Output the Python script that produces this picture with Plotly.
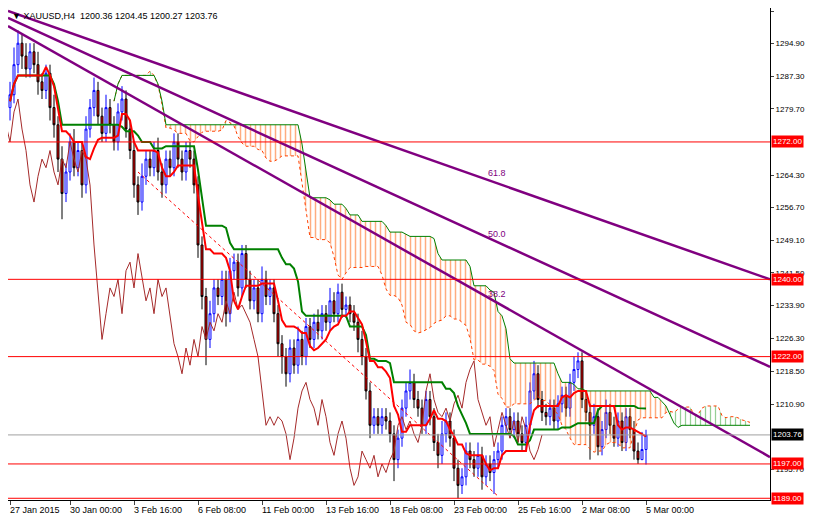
import pandas as pd
import plotly.graph_objects as go

closes = [1283, 1290, 1295, 1292, 1289, 1293, 1290, 1286, 1284, 1288, 1280, 1276,
          1268, 1260, 1265, 1272, 1266, 1270, 1262, 1275, 1280, 1284, 1278, 1274,
          1280, 1276, 1272, 1279, 1282, 1275, 1270, 1262, 1258, 1264, 1268, 1266,
          1270, 1265, 1262, 1268, 1266, 1272, 1268, 1265, 1270, 1268, 1262, 1248,
          1236, 1226, 1232, 1238, 1236, 1240, 1232, 1242, 1244, 1238, 1246, 1240,
          1235, 1238, 1232, 1240, 1236, 1238, 1232, 1225, 1222, 1218, 1224, 1220,
          1226, 1222, 1229, 1226, 1230, 1228, 1232, 1230, 1235, 1232, 1237, 1233,
          1234, 1232, 1230, 1226, 1222, 1214, 1206, 1208, 1206, 1208, 1207, 1204,
          1198, 1203, 1210, 1214, 1216, 1212, 1210, 1206, 1212, 1208, 1202, 1199,
          1204, 1207, 1203, 1196, 1192, 1194, 1200, 1198, 1196, 1199, 1194, 1197,
          1195, 1198, 1200, 1206, 1208, 1205, 1207, 1204, 1202, 1206, 1214, 1218,
          1212, 1209, 1208, 1210, 1207, 1211, 1213, 1210, 1216, 1219, 1221, 1212,
          1209, 1206, 1208, 1201, 1205, 1209, 1206, 1203, 1207, 1202, 1208, 1205,
          1200, 1198, 1200.36, 1203.76]
first_open = 1280
wick_up = [3, 4, 3, 2, 3, 2, 2, 3, 2, 2, 2, 3, 2, 3, 2, 2, 3, 2, 2, 3, 2, 3, 2, 2,
           3, 2, 2, 2, 3, 2, 2, 2, 2, 3, 2, 2, 2, 3, 2, 2, 2, 2, 2, 2, 2, 2, 2, 2,
           2, 2, 3, 2, 2, 2, 2, 3, 2, 2, 2, 2, 2, 2, 2, 3, 2, 2, 2, 2, 2, 2, 2, 2,
           3, 2, 2, 2, 2, 3, 2, 2, 3, 2, 2, 2, 2, 2, 2, 2, 2, 2, 2, 2, 2, 2, 2, 2,
           2, 2, 2, 2, 3, 2, 2, 2, 2, 2, 2, 2, 3, 2, 2, 2, 2, 2, 2, 2, 2, 3, 2, 2,
           2, 2, 2, 2, 2, 2, 2, 2, 2, 2, 2, 3, 2, 2, 2, 2, 2, 2, 2, 2, 2, 3, 2, 2,
           2, 2, 3, 2, 2, 3, 2, 2, 2, 2, 2, 2, 2, 2, 4.1, 1.2]
wick_dn = [3, 2, 2, 3, 2, 2, 2, 3, 2, 2, 3, 3, 3, 6, 2, 2, 2, 2, 3, 2, 2, 2, 2, 2,
           2, 2, 2, 2, 2, 2, 2, 3, 3, 2, 2, 2, 2, 2, 3, 2, 2, 2, 2, 2, 2, 2, 2, 3,
           3, 6, 2, 2, 2, 2, 3, 2, 2, 2, 2, 2, 2, 2, 2, 2, 2, 2, 2, 3, 4, 3, 2, 2,
           2, 2, 2, 2, 2, 2, 2, 2, 2, 2, 2, 2, 2, 2, 2, 3, 2, 2, 3, 2, 2, 2, 2, 2,
           5, 2, 2, 2, 2, 2, 2, 2, 2, 2, 2, 3, 2, 2, 2, 3, 3, 2, 2, 2, 2, 2, 3, 2,
           2, 5, 2, 2, 2, 2, 2, 2, 2, 2, 2, 2, 2, 2, 2, 2, 2, 2, 2, 2, 2, 2, 2, 2,
           2, 8, 2, 2, 2, 2, 2, 2, 2, 2, 2, 2, 2, 1, 0.1, 3.5]

date_ticks = [0, 15, 31, 47, 63, 79, 95, 111, 127, 143, 159]
date_labels = ["27 Jan 2015", "30 Jan 00:00", "3 Feb 16:00", "6 Feb 08:00", "11 Feb 00:00",
               "13 Feb 16:00", "18 Feb 08:00", "23 Feb 00:00", "25 Feb 16:00",
               "2 Mar 08:00", "5 Mar 00:00"]
price_ticks = [1302.5, 1294.9, 1287.3, 1279.7, 1264.3, 1256.7, 1249.1, 1241.5,
               1233.9, 1226.3, 1218.5, 1210.9, 1195.7]
levels = [1272.0, 1240.0, 1222.0, 1197.0, 1189.0]
last_price = 1203.76
# fibo channel: (bar at left, price), (bar at right, price)
fib_lines = [((-0.5, 1302.5), (190, 1240.0)),
             ((-0.5, 1300.9), (190, 1219.6)),
             ((-0.5, 1299.0), (190, 1198.6))]
fib_names = ["61.8", "50.0", "38.2"]
fib_label_pos = [(119, 1264.8), (119, 1250.6), (119, 1236.6)]
dash_line = ((32, 1265.0), (122, 1189.5))

FONT = "Liberation Sans"

n = len(closes)
idx = list(range(n))
opens = [first_open] + closes[:-1]
highs = [max(o, c) + w for o, c, w in zip(opens, closes, wick_up)]
lows = [min(o, c) - w for o, c, w in zip(opens, closes, wick_dn)]

hs = pd.Series(highs)
ls = pd.Series(lows)
tenkan = (hs.rolling(9, min_periods=1).max() + ls.rolling(9, min_periods=1).min()) / 2
kijun = (hs.rolling(26, min_periods=1).max() + ls.rolling(26, min_periods=1).min()) / 2
span_a = ((tenkan + kijun) / 2).tolist()
span_b = ((hs.rolling(52, min_periods=1).max() + ls.rolling(52, min_periods=1).min()) / 2).tolist()
cloud_x = [i + 26 for i in idx]
top = [max(a, b) for a, b in zip(span_a, span_b)]

fig = go.Figure()

# cloud: green where A above B, orange where B above A
clear = dict(color="rgba(0,0,0,0)", width=0)
fig.add_trace(go.Scatter(x=cloud_x, y=span_b, mode="lines", line=clear, hoverinfo="skip", showlegend=False))
fig.add_trace(go.Scatter(x=cloud_x, y=top, mode="lines", line=clear,
                         fill="tonexty", fillcolor="rgba(0,0,0,0)",
                         fillpattern=dict(shape="|", fgcolor="#2ca02c", size=5, solidity=0.25),
                         hoverinfo="skip", showlegend=False))
fig.add_trace(go.Scatter(x=cloud_x, y=span_a, mode="lines", line=clear, hoverinfo="skip", showlegend=False))
fig.add_trace(go.Scatter(x=cloud_x, y=top, mode="lines", line=clear,
                         fill="tonexty", fillcolor="rgba(0,0,0,0)",
                         fillpattern=dict(shape="|", fgcolor="#ff5a00", size=5, solidity=0.3),
                         hoverinfo="skip", showlegend=False))
fig.add_trace(go.Scatter(x=cloud_x, y=span_a, mode="lines", line=dict(color="#ff4000", width=1, dash="dot"),
                         showlegend=False))
fig.add_trace(go.Scatter(x=cloud_x, y=span_b, mode="lines", line=dict(color="#008000", width=1),
                         showlegend=False))

# chikou
fig.add_trace(go.Scatter(x=[i - 26 for i in idx], y=closes, mode="lines",
                         line=dict(color="#a52a2a", width=1), showlegend=False))

for lv in levels:
    fig.add_hline(y=lv, line=dict(color="#ff0000", width=1))
fig.add_hline(y=last_price, line=dict(color="#a0a0a0", width=1))

fig.add_trace(go.Scatter(x=[dash_line[0][0], dash_line[1][0]], y=[dash_line[0][1], dash_line[1][1]],
                         mode="lines", line=dict(color="#ff0000", width=1, dash="dot"), showlegend=False))

fig.add_trace(go.Candlestick(
    x=idx, open=opens, high=highs, low=lows, close=closes,
    increasing=dict(line=dict(color="#0000ff", width=1), fillcolor="#ffffff"),
    decreasing=dict(line=dict(color="#000000", width=1), fillcolor="#ff0000"),
    whiskerwidth=0, showlegend=False, hoverinfo="skip"))

fig.add_trace(go.Scatter(x=idx, y=kijun, mode="lines", line=dict(color="#008000", width=2), showlegend=False))
fig.add_trace(go.Scatter(x=idx, y=tenkan, mode="lines", line=dict(color="#ff0000", width=2), showlegend=False))

for (p0, p1) in fib_lines:
    fig.add_trace(go.Scatter(x=[p0[0], p1[0]], y=[p0[1], p1[1]], mode="lines",
                             line=dict(color="#800080", width=2.5), showlegend=False))
for name, (bx, py) in zip(fib_names, fib_label_pos):
    fig.add_annotation(x=bx, y=py, text=name, showarrow=False, xanchor="left",
                       font=dict(size=9, color="#800080"))

for t, lab in zip(date_ticks, date_labels):
    fig.add_annotation(x=t, y=0, yref="paper", yanchor="top", xanchor="left", text=lab,
                       showarrow=False, yshift=-3, xshift=-2, font=dict(size=9, color="#000"))

for lv in levels:
    fig.add_annotation(x=1, xref="paper", y=lv, xanchor="left", text="%.2f" % lv, showarrow=False,
                       bgcolor="#ff0000", font=dict(size=8, color="#ffffff"), borderpad=1, xshift=1)
fig.add_annotation(x=1, xref="paper", y=last_price, xanchor="left", text="%.2f" % last_price,
                   showarrow=False, bgcolor="#000000", font=dict(size=8, color="#ffffff"),
                   borderpad=1, xshift=1)
fig.add_annotation(x=0, xref="paper", y=1, yref="paper", xanchor="left", yanchor="top",
                   text="▼ XAUUSD,H4  1200.36 1204.45 1200.27 1203.76", showarrow=False,
                   font=dict(size=9, color="#000"), xshift=2, yshift=-1)

fig.update_layout(
    width=814, height=516, margin=dict(l=0, r=52, t=0, b=24),
    paper_bgcolor="#ffffff", plot_bgcolor="#ffffff",
    font=dict(family=FONT, size=9, color="#000"),
    xaxis=dict(range=[-0.5, 190], showgrid=False, tickvals=date_ticks, showticklabels=False,
               ticks="outside", ticklen=4, rangeslider=dict(visible=False),
               showline=True, linecolor="#000", mirror=True, zeroline=False),
    yaxis=dict(range=[1188.6, 1303.2], side="right", showgrid=False, tickvals=price_ticks,
               ticktext=["%.2f" % v for v in price_ticks], ticks="outside", ticklen=3,
               tickfont=dict(family=FONT, size=8),
               showline=True, linecolor="#000", mirror=True, zeroline=False),
)

fig.write_html("out.html")
